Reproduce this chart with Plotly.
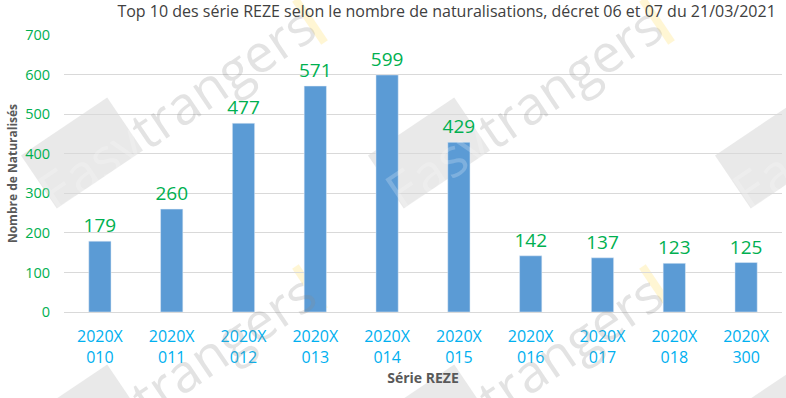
import math
import plotly.graph_objects as go

categories = ["2020X<br>010", "2020X<br>011", "2020X<br>012", "2020X<br>013", "2020X<br>014",
              "2020X<br>015", "2020X<br>016", "2020X<br>017", "2020X<br>018", "2020X<br>300"]
values = [179, 260, 477, 571, 599, 429, 142, 137, 123, 125]
y_ticks = [0, 100, 200, 300, 400, 500, 600, 700]

title = "Top 10 des série REZE selon le nombre de naturalisations, décret 06 et 07 du 21/03/2021"

W, H = 786, 398
L, R, T, B = 64, 4, 35, 86


def px2paper(px, py):
    return (px - L) / (W - L - R), (H - B - py) / (H - T - B)


fig = go.Figure()
fig.add_trace(go.Bar(
    x=categories, y=values,
    marker=dict(color="#5B9BD5"),
    text=[str(v) for v in values], textposition="outside",
    textfont=dict(color="#00B050", size=19, family="Open Sans"),
    constraintext="none",
    cliponaxis=False,
    width=0.31,
))

# ---- watermark decoration ("Easytrangers" tiled) ----
ang = math.radians(34)
u = (math.cos(ang), -math.sin(ang))        # along text
p = (-math.sin(ang), -math.cos(ang))       # perpendicular (up)
tile_dx, tile_dy = 347, 267
for row in range(2):
    for col in range(-1, 3):
        ox, oy = col * tile_dx, row * tile_dy
        # gray box behind "Easy"
        cx, cy = 82 + ox, 153 + oy
        a, b = 52, 32
        pts = []
        for sa, sb in [(1, 1), (1, -1), (-1, -1), (-1, 1)]:
            pts.append(px2paper(cx + sa * a * u[0] + sb * b * p[0],
                                cy + sa * a * u[1] + sb * b * p[1]))
        path = "M " + " L ".join(f"{x:.4f},{y:.4f}" for x, y in pts) + " Z"
        fig.add_shape(type="path", path=path, xref="paper", yref="paper",
                      fillcolor="rgba(200,200,200,0.4)", line=dict(width=0), layer="below")
        # yellow slash
        sx, sy = 310 + ox, 21 + oy
        x0, y0 = px2paper(sx - 26 * p[0], sy - 26 * p[1])
        x1, y1 = px2paper(sx + 26 * p[0], sy + 26 * p[1])
        fig.add_shape(type="line", x0=x0, y0=y0, x1=x1, y1=y1, xref="paper", yref="paper",
                      line=dict(color="rgba(255,236,160,0.45)", width=8), layer="below")
        # text
        tx, ty = px2paper(176 + ox, 108 + oy)
        fig.add_annotation(
            x=tx, y=ty, xref="paper", yref="paper", xanchor="center", yanchor="middle",
            text="<span style='color:rgba(255,255,255,0.9)'>Easy</span>trangers",
            showarrow=False, textangle=-34,
            font=dict(size=53, color="rgba(140,140,140,0.24)", family="Open Sans"),
        )

fig.update_layout(
    width=W, height=H,
    paper_bgcolor="white", plot_bgcolor="rgba(0,0,0,0)",
    margin=dict(l=L, r=R, t=T, b=B),
    showlegend=False,
    title=dict(text=title, x=0.987, xanchor="right", y=0.985, yanchor="top",
               font=dict(size=16, color="#404040", family="Open Sans")),
    xaxis=dict(
        automargin=False,
        tickfont=dict(color="#00B0F0", size=16, family="Open Sans"),
        showgrid=False, showline=True, linecolor="#D9D9D9", linewidth=1,
        ticks="", ticklabelstandoff=10,
        title=dict(text="Série REZE", standoff=6,
                   font=dict(size=14, color="#595959", family="Open Sans", weight="bold")),
    ),
    yaxis=dict(
        automargin=False,
        range=[0, 700], tickvals=y_ticks,
        tickfont=dict(color="#00B050", size=14.5, family="Open Sans"),
        showgrid=True, gridcolor="#D9D9D9", gridwidth=1, zeroline=False,
        ticks="", ticklabelstandoff=13,
        title=dict(text="Nombre de Naturalisés", standoff=4,
                   font=dict(size=12, color="#595959", family="Open Sans", weight="bold")),
    ),
    font=dict(family="Open Sans"),
)

fig.write_html("out.html", config={"displayModeBar": False},
               post_script="document.body.style.margin='0px';")
